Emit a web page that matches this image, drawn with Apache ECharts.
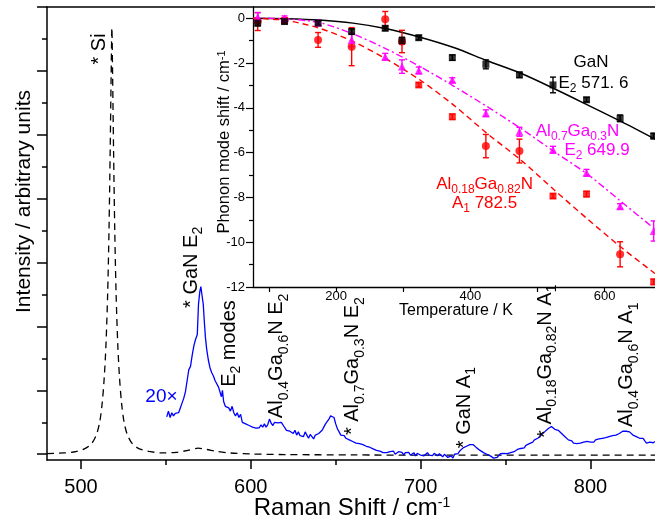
<!DOCTYPE html>
<html>
<head>
<meta charset="utf-8">
<script src="https://cdn.jsdelivr.net/npm/echarts@6/dist/echarts.min.js"></script>
<style>
  html, body { margin: 0; padding: 0; background: #ffffff; }
  #chart { width: 655px; height: 530px; }
</style>
</head>
<body>
<div id="chart"></div>
<script>
const FONT = '"Liberation Sans", Arial, sans-serif';

// ---- Raman spectra: [Raman shift (cm^-1), intensity (arb. units)] ----
const siReferenceSpectrum = [
  [480, 0.02], [490, 0.04], [497, 0.08], [502, 0.17], [506, 0.32], [509, 0.6],
  [511, 1.0], [512.5, 1.6], [513.7, 2.4], [514.7, 3.4], [515.7, 5.0], [516.5, 7.0],
  [517.2, 9.5], [517.8, 12.0], [518.2, 13.35], [518.6, 12.0], [519.2, 9.5], [519.9, 7.0],
  [520.7, 5.0], [521.7, 3.4], [522.7, 2.4], [523.9, 1.6], [525.4, 1.0], [527.4, 0.6],
  [530.4, 0.32], [534.4, 0.17], [540, 0.09], [548, 0.04], [556, 0.06], [563, 0.12],
  [569, 0.19], [574, 0.15], [580, 0.09], [588, 0.04], [600, 0.01], [620, -0.01],
  [660, -0.02], [700, -0.03], [760, -0.03], [838, -0.03]
];

const heterostructureSpectrum20x = [
  [550.5, 1.17], [551.5, 1.35], [552.5, 1.15], [553.5, 1.3], [554.5, 1.2], [555.5, 1.28],
  [556.5, 1.25], [557.5, 1.3], [558.5, 1.45], [559.5, 1.6], [560.5, 1.75], [561.5, 1.95],
  [562.5, 2.3], [563.5, 2.65], [564.5, 2.75], [565.5, 3.1], [566.5, 3.4], [567.5, 3.6],
  [568.5, 3.75], [569.2, 4.7], [570.0, 5.1], [570.6, 5.25], [571.2, 5.0], [572.0, 4.7],
  [572.7, 4.1], [573.3, 3.65], [574.0, 3.3], [575.0, 2.95], [576.0, 2.7], [577.0, 2.55],
  [578.0, 2.45], [579.0, 2.3], [580.0, 2.25], [581.0, 2.1], [582.0, 2.05], [582.7, 1.8],
  [583.3, 2.0], [584, 1.65], [585, 1.5], [586, 1.55], [587, 1.45], [588, 1.35],
  [589, 1.5], [590, 1.3], [591, 1.2], [592, 1.3], [593, 1.15], [594, 1.25],
  [595, 1.0], [596, 1.05], [597, 0.95], [598, 0.97], [599, 0.9], [600, 0.93],
  [601, 0.85], [602, 0.9], [603, 0.82], [604, 0.88], [605, 0.83], [606, 0.92],
  [607, 0.85], [608, 0.95], [609, 0.85], [610, 0.93], [611, 1.1], [612, 0.97],
  [613, 0.9], [614, 1.0], [615, 0.95], [616, 0.98], [617, 0.93], [618, 1.0],
  [619, 0.97], [620, 0.83], [621, 0.75], [622, 0.8], [623, 0.72], [624, 0.78],
  [625, 0.65], [626, 0.75], [627, 0.6], [628, 0.7], [629, 0.58], [630, 0.62],
  [631, 0.55], [632, 0.7], [633, 0.6], [634, 0.5], [635, 0.62], [636, 0.55],
  [637, 0.48], [638, 0.6], [639, 0.65], [640, 0.65], [641, 0.7], [642, 0.75],
  [643, 0.85], [644, 0.95], [645, 1.0], [646, 1.1], [647, 1.2], [648, 1.25],
  [649, 1.15], [650, 0.95], [651, 0.8], [652, 0.7], [653, 0.6], [654, 0.55],
  [655, 0.58], [656, 0.5], [657, 0.48], [658, 0.45], [659, 0.5], [660, 0.4],
  [661, 0.42], [662, 0.35], [663, 0.38], [664, 0.33], [665, 0.38], [666, 0.3],
  [667, 0.32], [668, 0.25], [669, 0.3], [670, 0.22], [671, 0.25], [672, 0.17],
  [673, 0.2], [674, 0.12], [675, 0.15], [676, 0.1], [677, 0.12], [678, 0.05],
  [679, 0.1], [680, 0.05], [681, 0.02], [682, 0.08], [683, 0.03], [684, 0.1],
  [685, 0.0], [686, 0.05], [687, 0.08], [688, 0.02], [689, 0.06], [690, -0.02],
  [691, 0.05], [692, 0.0], [693, 0.06], [694, -0.03], [695, 0.02], [696, 0.05],
  [697, -0.05], [698, 0.03], [699, 0.0], [700, -0.03], [701, 0.03], [702, -0.05],
  [703, 0.0], [704, 0.05], [705, -0.03], [706, 0.02], [707, -0.04], [708, 0.03],
  [709, 0.0], [710, -0.05], [711, 0.02], [712, -0.03], [713, -0.08], [714, 0.0],
  [715, -0.06], [716, -0.1], [717, -0.15], [718, -0.05], [719, -0.12], [720, 0.0],
  [721, 0.05], [722, 0.02], [723, 0.1], [724, 0.15], [725, 0.2], [726, 0.18],
  [727, 0.25], [728, 0.28], [729, 0.3], [730, 0.35], [731, 0.3], [732, 0.25],
  [733, 0.2], [734, 0.15], [735, 0.12], [736, 0.08], [737, 0.05], [738, 0.02],
  [739, 0.0], [740, -0.03], [741, -0.05], [742, -0.08], [743, -0.12], [744, -0.18],
  [745, -0.1], [746, -0.05], [747, 0.02], [748, -0.02], [749, 0.03], [750, 0.05],
  [751, 0.02], [752, 0.08], [753, 0.05], [754, 0.1], [755, 0.08], [756, 0.12],
  [757, 0.15], [758, 0.12], [759, 0.18], [760, 0.22], [761, 0.2], [762, 0.28],
  [763, 0.25], [764, 0.33], [765, 0.3], [766, 0.38], [767, 0.45], [768, 0.42],
  [769, 0.5], [770, 0.55], [771, 0.6], [772, 0.65], [773, 0.7], [774, 0.75],
  [775, 0.8], [776, 0.85], [777, 0.87], [778, 0.82], [779, 0.78], [780, 0.8],
  [781, 0.75], [782, 0.72], [783, 0.65], [784, 0.6], [785, 0.55], [786, 0.5],
  [787, 0.45], [788, 0.4], [789, 0.42], [790, 0.35], [791, 0.3], [792, 0.33],
  [793, 0.28], [794, 0.35], [795, 0.3], [796, 0.38], [797, 0.33], [798, 0.4],
  [799, 0.35], [800, 0.38], [801, 0.42], [802, 0.38], [803, 0.45], [804, 0.4],
  [805, 0.48], [806, 0.43], [807, 0.5], [808, 0.47], [809, 0.52], [810, 0.5],
  [811, 0.55], [812, 0.52], [813, 0.58], [814, 0.55], [815, 0.6], [816, 0.62],
  [817, 0.65], [818, 0.68], [819, 0.72], [820, 0.7], [821, 0.72], [822, 0.68],
  [823, 0.7], [824, 0.65], [825, 0.6], [826, 0.62], [827, 0.55], [828, 0.58],
  [829, 0.5], [830, 0.45], [831, 0.5], [832, 0.42], [833, 0.35], [834, 0.4],
  [835, 0.38], [836, 0.42], [837, 0.36], [838, 0.4]
];

// ---- Inset: phonon mode shift vs temperature ----
const temperatureK = [83, 123, 173, 223, 273, 298, 323, 373, 423, 473, 523, 573, 623, 673];
const ganE2Shift  = [-0.22, -0.15, -0.22, -0.60, -0.45, -1.00, -0.87, -1.76, -2.06, -2.53, -2.98, -3.64, -4.47, -5.26];
const ganE2Error  = [0.12, 0.10, 0.10, 0.12, 0.10, 0.15, 0.10, 0.12, 0.20, 0.12, 0.35, 0.10, 0.15, 0.12];
const al70E2Shift = [0.05, 0.0, -0.20, -0.97, -1.72, -2.16, -2.33, -2.76, -4.24, -5.07, -5.87, -6.90, -8.40, -9.50];
const al70E2Error = [0.20, 0.10, 0.10, 0.30, 0.15, 0.30, 0.15, 0.10, 0.15, 0.20, 0.15, 0.15, 0.12, 0.45];
const al18A1Shift = [-0.15, -0.10, -0.97, -1.27, -0.05, -1.04, -2.98, -4.40, -5.71, -5.93, -7.94, -7.85, -10.54, -11.77];
const al18A1Error = [0.40, 0.12, 0.33, 0.85, 0.35, 0.50, 0.10, 0.12, 0.52, 0.53, 0.10, 0.12, 0.56, 0.12];
const al18A1Marker = ['circle', 'rect', 'circle', 'circle', 'circle', 'circle', 'rect',
                      'rect', 'circle', 'circle', 'rect', 'rect', 'circle', 'rect'];

// fitted anharmonic-decay curves
const fitTemperatureK = [76, 125, 175, 225, 275, 325, 375, 425, 475, 525, 575, 625, 675];
const ganE2Fit  = [0, -0.02, -0.08, -0.22, -0.47, -0.85, -1.31, -1.90, -2.46, -3.15, -3.88, -4.62, -5.40];
const al70E2Fit = [0, -0.03, -0.20, -0.70, -1.38, -2.16, -3.03, -3.95, -4.92, -5.96, -6.98, -8.20, -9.42];
const al18A1Fit = [0, -0.10, -0.45, -1.04, -1.83, -2.76, -3.88, -5.15, -6.33, -7.67, -8.98, -10.24, -11.40];

// ---- ticks ----
const ramanTicks = [500, 600, 700, 800];
const ramanMinorTicks = [550, 650, 750];
const intensityTicks = [0, 2, 4, 6, 8, 10, 12, 14];
const intensityMinorTicks = [1, 3, 5, 7, 9, 11, 13];
const temperatureTicks = [200, 400, 600];
const temperatureMinorTicks = [100, 300, 500];
const shiftTicks = [0, -2, -4, -6, -8, -10, -12];
const shiftMinorTicks = [-1, -3, -5, -7, -9, -11];

// ---- text: "_{..}" subscript, "^{..}" superscript ----
const peakLabels = [
  { text: '* Si', at: [510.8, 12.2] },
  { text: '* GaN E_{2}', at: [565.0, 4.58] },
  { text: 'E_{2} modes', at: [587.4, 2.11] },
  { text: 'Al_{0.4}Ga_{0.6}N E_{2}', at: [615.3, 1.13] },
  { text: '* Al_{0.7}Ga_{0.3}N E_{2}', at: [660.0, 0.60] },
  { text: '* GaN A_{1}', at: [725.8, 0.19] },
  { text: '* Al_{0.18}Ga_{0.82}N A_{1}', at: [773.5, 0.51] },
  { text: 'Al_{0.4}Ga_{0.6}N A_{1}', at: [821.5, 0.85] }
];
const scaleLabel = { text: '20×', at: [547.4, 1.79] };
const insetLabels = [
  { text: 'GaN', at: [579.7, -1.95], color: '#000000' },
  { text: 'E_{2} 571. 6', at: [583.4, -2.90], color: '#000000' },
  { text: 'Al_{0.7}Ga_{0.3}N', at: [559.5, -5.04], color: '#ff00ff' },
  { text: 'E_{2} 649.9', at: [588.6, -5.89], color: '#ff00ff' },
  { text: 'Al_{0.18}Ga_{0.82}N', at: [421.0, -7.41], color: '#ff0000' },
  { text: 'A_{1} 782.5', at: [421.0, -8.27], color: '#ff0000' }
];

function toRich(s) {
  const re = /([_^])\{([^}]*)\}/g;
  let out = '', last = 0, m;
  while ((m = re.exec(s))) {
    if (m.index > last) out += '{n|' + s.slice(last, m.index) + '}';
    out += '{' + (m[1] === '_' ? 's' : 'p') + '|' + m[2] + '}';
    last = re.lastIndex;
  }
  if (last < s.length) out += '{n|' + s.slice(last) + '}';
  return out;
}
function richStyles(F, f, color) {
  const drop = 0.26 * F;
  return {
    n: { fontSize: F, lineHeight: F, verticalAlign: 'top', fontFamily: FONT, fill: color },
    s: { fontSize: f, verticalAlign: 'top', fontFamily: FONT, fill: color,
         padding: [Math.round(drop + 0.8 * (F - f)), 0, 0, 0] },
    p: { fontSize: f, lineHeight: f, verticalAlign: 'top', fontFamily: FONT, fill: color }
  };
}
// one text element; rotated texts read bottom-to-top
function textEl(str, x, y, F, f, color, opts) {
  opts = opts || {};
  return {
    type: 'text',
    x: x, y: y,
    rotation: opts.rotate ? Math.PI / 2 : 0,
    silent: true,
    z: 100,
    style: {
      text: toRich(str),
      rich: richStyles(F, f, color),
      fill: color,
      font: F + 'px ' + FONT,
      align: opts.align || 'left', textAlign: opts.align || 'left',
      verticalAlign: 'top', textVerticalAlign: 'top'
    }
  };
}

const AXIS_COLOR = '#000000';
const axisLine = { show: true, onZero: false, lineStyle: { color: AXIS_COLOR, width: 1.5 } };
const hiddenLine = { show: false, onZero: false };

function valueAxis(extra) {
  return Object.assign({
    type: 'value',
    splitLine: { show: false },
    axisLine: axisLine,
    axisLabel: { show: false },
    axisTick: { show: false }
  }, extra);
}
function tick(values, len, width) {
  return { show: true, customValues: values, length: len, lineStyle: { color: AXIS_COLOR, width: width } };
}

const chart = echarts.init(document.getElementById('chart'), null, { renderer: 'canvas' });

const RAMAN_MIN = 480, RAMAN_MAX = 838;
const INT_MIN = -0.18, INT_MAX = 14;
const T_MIN = 76, T_MAX = 675;
const SHIFT_MIN = -12, SHIFT_MAX = 0.5;

const MAIN_RECT = { left: 47, top: 7, right: 0, bottom: 70 };
const INSET_RECT = { left: 253, top: 7, right: 0, bottom: 243 };

function errorBars(values, errors, color) {
  return {
    type: 'custom',
    xAxisIndex: 2, yAxisIndex: 1,
    z: 4,
    clip: false,
    data: temperatureK.map((t, i) => [t, values[i], errors[i]]),
    encode: { x: 0, y: 1 },
    renderItem: function (params, api) {
      const x = api.value(0), y = api.value(1), e = api.value(2);
      const a = api.coord([x, y + e]);
      const b = api.coord([x, y - e]);
      const w = 3;
      const st = { stroke: color, lineWidth: 1.4 };
      return {
        type: 'group',
        children: [
          { type: 'line', shape: { x1: a[0], y1: a[1], x2: b[0], y2: b[1] }, style: st },
          { type: 'line', shape: { x1: a[0] - w, y1: a[1], x2: a[0] + w, y2: a[1] }, style: st },
          { type: 'line', shape: { x1: b[0] - w, y1: b[1], x2: b[0] + w, y2: b[1] }, style: st }
        ]
      };
    }
  };
}

const option = {
  animation: false,
  backgroundColor: '#ffffff',
  textStyle: { fontFamily: FONT },
  // grids 2 and 3 share the rectangles of 0 and 1 and only carry the minor ticks
  grid: [
    Object.assign({}, MAIN_RECT),
    Object.assign({}, INSET_RECT),
    Object.assign({}, MAIN_RECT),
    Object.assign({}, INSET_RECT)
  ],
  xAxis: [
    valueAxis({ gridIndex: 0, position: 'bottom', min: RAMAN_MIN, max: RAMAN_MAX,
      axisTick: tick(ramanTicks, 9, 1.5),
      axisLabel: { show: true, customValues: ramanTicks, fontSize: 20, color: '#000', margin: 17, fontFamily: FONT } }),
    valueAxis({ gridIndex: 0, position: 'top', min: RAMAN_MIN, max: RAMAN_MAX }),
    valueAxis({ gridIndex: 1, position: 'bottom', min: T_MIN, max: T_MAX,
      axisLine: { show: true, onZero: false, lineStyle: { color: AXIS_COLOR, width: 1.3 } },
      axisTick: tick(temperatureTicks, 5, 1.2),
      axisLabel: { show: true, customValues: temperatureTicks, fontSize: 13, color: '#000', margin: 3, fontFamily: FONT } }),
    valueAxis({ gridIndex: 2, position: 'bottom', min: RAMAN_MIN, max: RAMAN_MAX,
      axisLine: hiddenLine, axisTick: tick(ramanMinorTicks, 5, 1.5) }),
    valueAxis({ gridIndex: 3, position: 'bottom', min: T_MIN, max: T_MAX,
      axisLine: hiddenLine, axisTick: tick(temperatureMinorTicks, 5, 1.2) })
  ],
  yAxis: [
    valueAxis({ gridIndex: 0, position: 'left', min: INT_MIN, max: INT_MAX,
      axisTick: tick(intensityTicks, 10, 1.5) }),
    valueAxis({ gridIndex: 1, position: 'left', min: SHIFT_MIN, max: SHIFT_MAX,
      axisLine: { show: true, onZero: false, lineStyle: { color: AXIS_COLOR, width: 1.3 } },
      axisTick: tick(shiftTicks, 7, 1.2),
      axisLabel: { show: true, customValues: shiftTicks, fontSize: 13, color: '#000', margin: 8, fontFamily: FONT } }),
    valueAxis({ gridIndex: 2, position: 'left', min: INT_MIN, max: INT_MAX,
      axisLine: hiddenLine, axisTick: tick(intensityMinorTicks, 5, 1.5) }),
    valueAxis({ gridIndex: 3, position: 'left', min: SHIFT_MIN, max: SHIFT_MAX,
      axisLine: hiddenLine, axisTick: tick(shiftMinorTicks, 4, 1.2) })
  ],
  series: [
    {
      name: 'Si reference', type: 'line', xAxisIndex: 0, yAxisIndex: 0,
      data: siReferenceSpectrum, showSymbol: false, smooth: 0.3, z: 2,
      lineStyle: { color: '#000000', width: 1.3, type: [7, 5] }
    },
    {
      name: '20x', type: 'line', xAxisIndex: 0, yAxisIndex: 0,
      data: heterostructureSpectrum20x, showSymbol: false, z: 3,
      lineStyle: { color: '#0000ff', width: 1.3 }
    },
    {
      name: 'GaN fit', type: 'line', xAxisIndex: 2, yAxisIndex: 1,
      data: fitTemperatureK.map((t, i) => [t, ganE2Fit[i]]), showSymbol: false, smooth: 0.3, z: 3,
      lineStyle: { color: '#000000', width: 1.5 }
    },
    {
      name: 'Al0.7 fit', type: 'line', xAxisIndex: 2, yAxisIndex: 1,
      data: fitTemperatureK.map((t, i) => [t, al70E2Fit[i]]), showSymbol: false, smooth: 0.3, z: 3,
      lineStyle: { color: '#ff00ff', width: 1.4, type: [7, 3, 2, 3] }
    },
    {
      name: 'Al0.18 fit', type: 'line', xAxisIndex: 2, yAxisIndex: 1,
      data: fitTemperatureK.map((t, i) => [t, al18A1Fit[i]]), showSymbol: false, smooth: 0.3, z: 3,
      lineStyle: { color: '#ff0000', width: 1.4, type: [6, 4] }
    },
    errorBars(al18A1Shift, al18A1Error, '#ff0000'),
    errorBars(al70E2Shift, al70E2Error, '#ff00ff'),
    errorBars(ganE2Shift, ganE2Error, '#000000'),
    {
      name: 'Al0.18 A1', type: 'scatter', xAxisIndex: 2, yAxisIndex: 1, z: 5,
      data: temperatureK.map((t, i) => ({ value: [t, al18A1Shift[i]], symbol: al18A1Marker[i],
        symbolSize: al18A1Marker[i] === 'rect' ? 7 : 8 })),
      itemStyle: { color: '#ff0000' }
    },
    {
      name: 'Al0.7 E2', type: 'scatter', xAxisIndex: 2, yAxisIndex: 1, z: 6,
      data: temperatureK.map((t, i) => [t, al70E2Shift[i]]),
      symbol: 'triangle', symbolSize: 8,
      itemStyle: { color: '#ff00ff' }
    },
    {
      name: 'GaN E2', type: 'scatter', xAxisIndex: 2, yAxisIndex: 1, z: 7,
      data: temperatureK.map((t, i) => [t, ganE2Shift[i]]),
      symbol: 'rect', symbolSize: 7,
      itemStyle: { color: '#000000' }
    }
  ]
};

chart.setOption(option);

// annotations placed from data coordinates
const graphics = [];
const PEAK_F = 20, PEAK_f = 14;
peakLabels.forEach(function (lab) {
  const p = chart.convertToPixel({ gridIndex: 0 }, lab.at);
  graphics.push(textEl(lab.text, p[0] - PEAK_F / 2, p[1], PEAK_F, PEAK_f, '#000000', { rotate: true }));
});
(function () {
  const p = chart.convertToPixel({ gridIndex: 0 }, scaleLabel.at);
  graphics.push(textEl(scaleLabel.text, p[0], p[1] - 19 / 2, 19, 13, '#0000ff', { align: 'center' }));
})();
const INSET_F = 17, INSET_f = 12;
insetLabels.forEach(function (lab) {
  const p = chart.convertToPixel({ gridIndex: 1 }, lab.at);
  graphics.push(textEl(lab.text, p[0], p[1] - INSET_F / 2, INSET_F, INSET_f, lab.color, { align: 'center' }));
});

// axis titles
graphics.push(textEl('Intensity / arbitrary units', 24.5 - 10.5, 201.5, 21, 13, '#000000', { rotate: true, align: 'center' }));
graphics.push(textEl('Raman Shift / cm^{-1}', 352, 508 - 12, 24, 14, '#000000', { align: 'center' }));
graphics.push(textEl('Phonon mode shift / cm^{-1}', 224.5 - 8.25, 142, 16.5, 11, '#000000', { rotate: true, align: 'center' }));
graphics.push(textEl('Temperature / K', 456, 310.8 - 8, 16, 11, '#000000', { align: 'center' }));

chart.setOption({ graphic: { elements: graphics } });
</script>
</body>
</html>
